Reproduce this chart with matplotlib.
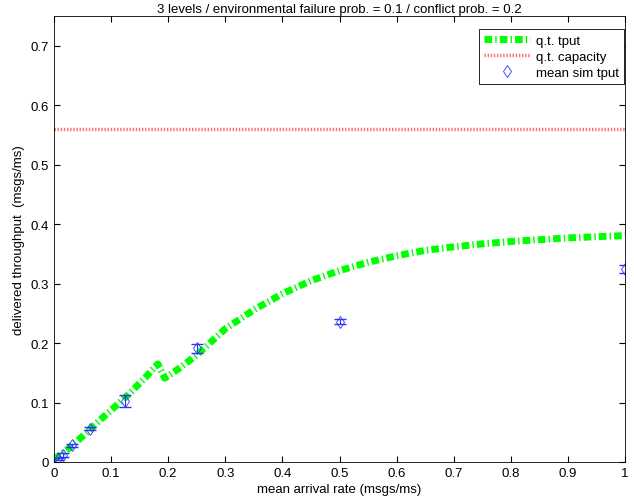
import numpy as np
import matplotlib.pyplot as plt

plt.rcParams['font.family'] = ['Liberation Sans', 'DejaVu Sans']

# q.t. throughput curve
rate = [0.0, 0.02, 0.05, 0.08, 0.1, 0.13, 0.16, 0.182, 0.194, 0.22, 0.25, 0.3, 0.35,
        0.4, 0.45, 0.5, 0.55, 0.6, 0.65, 0.7, 0.75, 0.8, 0.85, 0.9, 0.95, 1.0]
tput = [0.005, 0.018, 0.043, 0.07, 0.087, 0.113, 0.142, 0.165, 0.141, 0.158, 0.18, 0.224,
        0.256, 0.283, 0.305, 0.322, 0.336, 0.347, 0.356, 0.362, 0.367, 0.371, 0.374,
        0.377, 0.379, 0.381]
capacity = 0.56

# simulation results
sim_rate = [0.0078, 0.0156, 0.03125, 0.0625, 0.125, 0.25, 0.5, 1.0]
sim_tput = [0.005, 0.012, 0.028, 0.056, 0.103, 0.191, 0.236, 0.325]
sim_err = [0.002, 0.003, 0.003, 0.003, 0.01, 0.007, 0.004, 0.007]

fs = 9.5
fig = plt.figure(figsize=(6.34, 5.02), dpi=100)
ax = fig.add_axes([0.085, 0.0777, 0.901, 0.888])

ax.plot(rate, tput, color='#00ff00', linestyle=(0, (1.1, 0.45, 0.2, 0.45)),
        linewidth=5, label='q.t. tput')
ax.plot([0, 1], [capacity, capacity], color='#ff3030', linestyle=(0, (0.4, 0.5)),
        linewidth=2.5, alpha=0.7, label='q.t. capacity')
ax.errorbar(sim_rate, sim_tput, yerr=sim_err, fmt='none', ecolor='#3030ff',
            elinewidth=0.8, capsize=4.5)
ax.plot(sim_rate, sim_tput, linestyle='none', marker='d', markersize=6,
        markerfacecolor='none', markeredgecolor='#3030ff', markeredgewidth=0.6,
        label='mean sim tput')

ax.set_xlim(0, 1)
ax.set_ylim(0, 0.75)
ax.set_xticks(np.arange(0, 1.01, 0.1))
ax.set_xticklabels(['0', '0.1', '0.2', '0.3', '0.4', '0.5', '0.6', '0.7', '0.8', '0.9', '1'])
ax.set_yticks(np.arange(0, 0.71, 0.1))
ax.set_yticklabels(['0', '0.1', '0.2', '0.3', '0.4', '0.5', '0.6', '0.7'])
ax.tick_params(direction='in', length=4, labelsize=fs, top=True, right=True)
for s in ax.spines.values():
    s.set_linewidth(0.6)

ax.set_xlabel('mean arrival rate (msgs/ms)', fontsize=fs, labelpad=3)
ax.set_ylabel('delivered throughput  (msgs/ms)', fontsize=fs, labelpad=4)
ax.set_title('3 levels / environmental failure prob. = 0.1 / conflict prob. = 0.2',
             fontsize=fs, pad=3)

leg = ax.legend(loc='upper right', bbox_to_anchor=(624 / 634, 1 - 30 / 502),
                bbox_transform=fig.transFigure, borderaxespad=0,
                fontsize=fs, fancybox=False, edgecolor='black', framealpha=1,
                handlelength=3.5, labelspacing=0.3, borderpad=0.4, handletextpad=0.4)
leg.get_frame().set_linewidth(0.6)

fig.savefig('out.png', dpi=100)
